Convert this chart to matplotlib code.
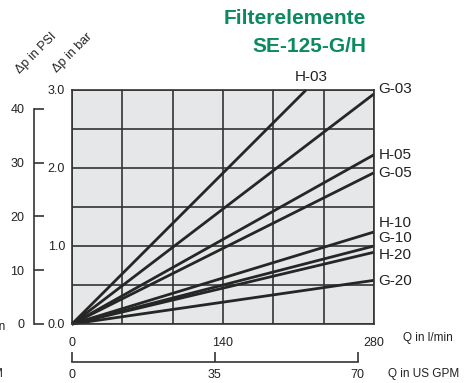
import numpy as np
import matplotlib
matplotlib.use("Agg")
import matplotlib.pyplot as plt

# Filter element curves: pressure drop vs. flow, straight lines from origin
elements = ["H-03", "G-03", "H-05", "G-05", "H-10", "G-10", "H-20", "G-20"]
end_flow = [217, 280, 280, 280, 280, 280, 280, 280]      # l/min
end_dp = [3.0, 2.95, 2.17, 1.94, 1.18, 1.0, 0.92, 0.56]  # bar

flow_ticks = [0, 140, 280]
gpm_ticks = [0, 35, 70]
bar_ticks = [0, 1, 2, 3]
psi_ticks = [0, 10, 20, 30, 40]

BAR_TO_PSI = 14.5038
LPM_TO_GPM = 1 / 3.78541

plt.rcParams['font.family'] = ['Liberation Sans', 'DejaVu Sans']

W, H = 465, 383
fig = plt.figure(figsize=(W / 100, H / 100), dpi=100)

def box(x0, y0, x1, y1):
    # pixel box (top-left origin) -> figure fraction rect
    return [x0 / W, 1 - y1 / H, (x1 - x0) / W, (y1 - y0) / H]

ax = fig.add_axes(box(72, 90, 374, 324))
ax.set_facecolor('#e6e7e8')
ax.set_xlim(0, 280)
ax.set_ylim(0, 3)
ax.set_xticks(flow_ticks)
ax.set_xticks(np.linspace(0, 280, 7), minor=True)
ax.set_yticks(bar_ticks)
ax.set_yticklabels([f"{v:.1f}" for v in bar_ticks])
ax.set_yticks(np.arange(0, 3.01, 0.5), minor=True)
ax.tick_params(which='both', length=0, labelsize=9, colors='#222222')
ax.tick_params(axis='x', pad=9)
ax.tick_params(axis='y', pad=5)
ax.grid(which='both', color='#333333', linewidth=1.2)
ax.set_axisbelow(True)
for s in ax.spines.values():
    s.set_color('#333333')
    s.set_linewidth(1.2)

label_dy = [0, 0.06, 0, 0, 0.115, 0.10, -0.035, -0.01]
for name, q, dp, dy in zip(elements, end_flow, end_dp, label_dy):
    ax.plot([0, q], [0, dp], color='#262626', linewidth=2.0, clip_on=False,
            solid_capstyle='butt')
    if q < 280:
        ax.text(q + 5, dp + 0.17, name, ha='center', va='center', fontsize=11,
                color='#222222')
    else:
        ax.text(q + 4, dp + dy, name, ha='left', va='center', fontsize=11,
                color='#222222')

# PSI axis on the far left
ax_psi = fig.add_axes(box(34, 90, 60, 324))
ax_psi.set_ylim(0, 3 * BAR_TO_PSI)
ax_psi.patch.set_visible(False)
for k in ['top', 'right', 'bottom']:
    ax_psi.spines[k].set_visible(False)
ax_psi.spines['left'].set_bounds(0, 40)
ax_psi.spines['left'].set_color('#333333')
ax_psi.spines['left'].set_linewidth(1.2)
ax_psi.set_xticks([])
ax_psi.set_yticks(psi_ticks)
ax_psi.tick_params(axis='y', direction='in', length=7, width=1.2, pad=7,
                   labelsize=9, colors='#333333', labelcolor='#222222')

# US GPM axis under the chart
ax_gpm = fig.add_axes(box(72, 340, 374, 362))
ax_gpm.set_xlim(0, 280 * LPM_TO_GPM)
ax_gpm.patch.set_visible(False)
for k in ['top', 'right', 'left']:
    ax_gpm.spines[k].set_visible(False)
ax_gpm.spines['bottom'].set_bounds(0, 70)
ax_gpm.spines['bottom'].set_color('#333333')
ax_gpm.spines['bottom'].set_linewidth(1.2)
ax_gpm.set_yticks([])
ax_gpm.set_xticks(gpm_ticks)
ax_gpm.tick_params(axis='x', direction='in', length=7, width=1.2, pad=5,
                   labelsize=9, colors='#333333', labelcolor='#222222')

# axis titles
fig.text(403 / W, 1 - 338 / H, "Q in l/min", ha='left', va='center', fontsize=8.5, color='#222222')
fig.text(388 / W, 1 - 374 / H, "Q in US GPM", ha='left', va='center', fontsize=8.5, color='#222222')
fig.text(36.5 / W, 1 - 53.5 / H, "Δp in PSI", rotation=45, ha='center', va='center', fontsize=9, color='#222222')
fig.text(72.5 / W, 1 - 53 / H, "Δp in bar", rotation=45, ha='center', va='center', fontsize=9, color='#222222')

# cut-off text at the left border (as in the source page)
fig.text(5 / W, 1 - 327 / H, "in", ha='right', va='center', fontsize=8.5, color='#222222')
fig.text(3 / W, 1 - 374 / H, "M", ha='right', va='center', fontsize=8.5, color='#222222')

# title
green = '#0b8a5e'
fig.text(366 / W, 1 - 18 / H, "Filterelemente", ha='right', va='center', fontsize=15,
         fontweight='bold', color=green)
fig.text(366 / W, 1 - 47 / H, "SE-125-G/H", ha='right', va='center', fontsize=15,
         fontweight='bold', color=green)

fig.savefig("out.png", dpi=100)
